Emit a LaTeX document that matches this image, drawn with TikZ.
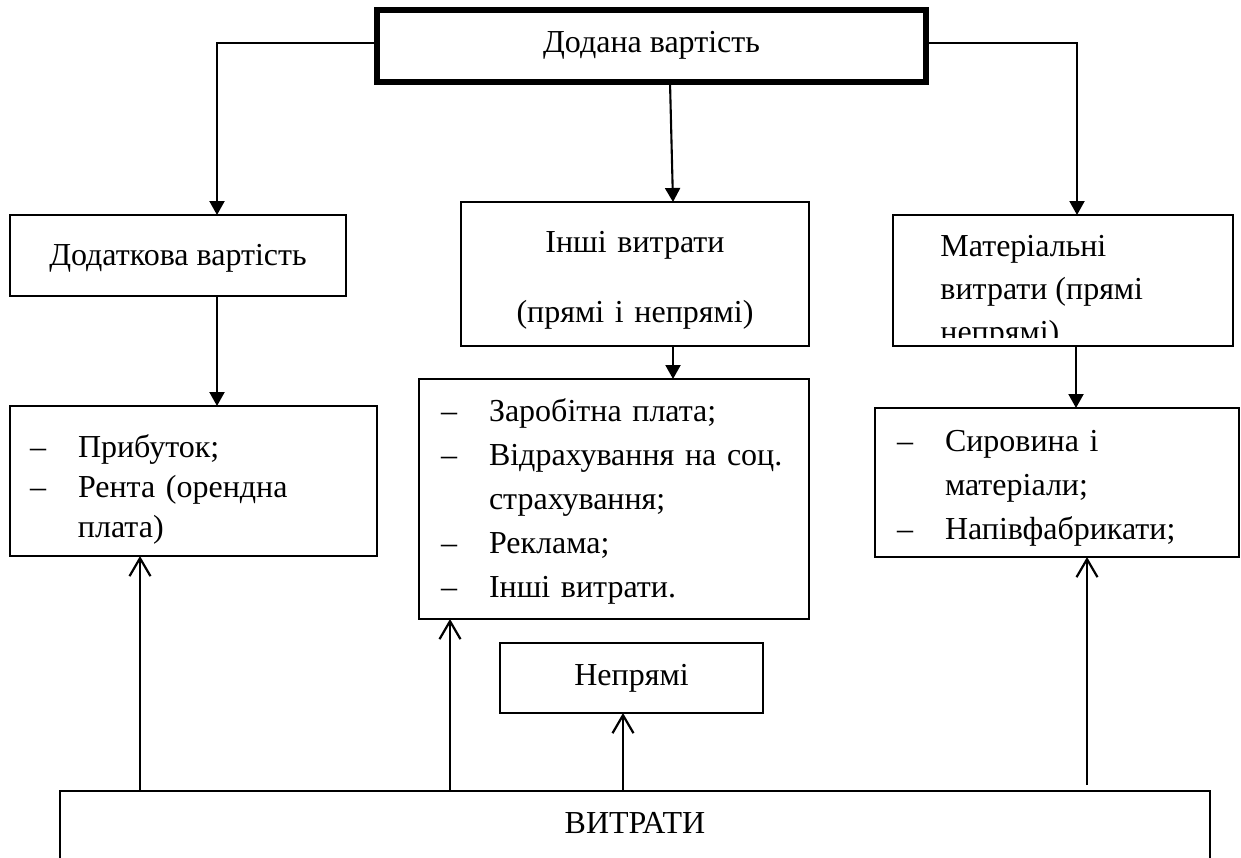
\documentclass[tikz,border=0pt]{standalone}
\usepackage{fontspec}
\setmainfont{Liberation Serif}
\usetikzlibrary{arrows.meta}
\newcommand{\idash}{\makebox[24pt][l]{–}}
\newcommand{\iindent}{\hspace*{24pt}}
\begin{document}
\begin{tikzpicture}[x=0.5pt,y=-0.5pt,
  box/.style={draw, line width=0.8pt, inner sep=0pt, outer sep=0pt, font=\fontsize{16}{20}\selectfont},
  thickbox/.style={box, line width=3pt},
  listbox/.style={box, anchor=north west, align=left, inner xsep=11pt, font=\fontsize{16}{22}\selectfont},
  conn/.style={line width=1.05pt, -{Triangle[length=7pt,width=7.5pt]}},
  up/.style={line width=1.1pt, -{Straight Barb[length=9pt,width=10.5pt]}},
]
\useasboundingbox (0,0) rectangle (1241,857);
\clip (0,0) rectangle (1241,857);

% boxes
\node[thickbox, anchor=north, minimum width=274.5pt, text height=21pt, text depth=15pt] (top) at (651.5,10) {Додана вартість};
\node[box, anchor=north, minimum width=168pt, text height=25pt, text depth=15.5pt] (dod) at (178,215) {Додаткова вартість};
\node[box, anchor=north, text width=174pt, align=center, text height=25pt, text depth=47pt, font=\fontsize{16}{35}\selectfont] (inshi) at (635,202) {Інші витрати\\(прямі і непрямі)};
\node[box, anchor=north west, minimum width=170pt, minimum height=65.5pt] (mat) at (893,215) {};
\begin{scope}
  \clip (mat.north west) rectangle ([yshift=4.5pt]mat.south east);
  \node[anchor=base west, inner sep=0pt, align=left, font=\fontsize{16}{21.5}\selectfont] (mattext) at (940,342) {Матеріальні\\витрати (прямі\\непрямі)};
\end{scope}

\node[listbox, inner xsep=10pt, text width=163.5pt, text height=25.5pt, text depth=49.5pt, font=\fontsize{16}{20}\selectfont] (prib) at (10,406) {\idash Прибуток;\\\idash Рента (орендна\\\iindent плата)};
\node[listbox, text width=173pt, text height=21pt, text depth=99pt] (list2) at (419,379) {\idash Заробітна плата;\\\idash Відрахування на соц.\\\iindent страхування;\\\idash Реклама;\\\idash Інші витрати.};
\node[listbox, text width=160pt, text height=21.5pt, text depth=53pt] (list3) at (875,408) {\idash Сировина і\\\iindent матеріали;\\\idash Напівфабрикати;};

\node[box, line width=1.1pt, anchor=north, minimum width=131.5pt, text height=21pt, text depth=14pt] (nepr) at (631.5,643) {Непрямі};
\node[box, line width=1.3pt, anchor=north, minimum width=575pt, text height=21pt, text depth=50pt] (vit) at (635,791) {ВИТРАТИ};

% downward connectors
\draw[conn] ([yshift=1.5pt]top.west) -| ([xshift=19.5pt]dod.north);
\draw[conn] ([xshift=9.25pt]top.south) -- ([xshift=19pt]inshi.north);
\draw[conn] ([yshift=1.5pt]top.east) -| ([xshift=7pt]mat.north);
\draw[conn] ([xshift=19.5pt]dod.south) -- ([xshift=19.5pt]dod.south |- prib.north);
\draw[conn] ([xshift=19pt]inshi.south) -- ([xshift=19pt]inshi.south |- list2.north);
\draw[conn] ([xshift=6.5pt]mat.south) -- ([xshift=6.5pt]mat.south |- list3.north);

% upward connectors
\draw[up] ([xshift=-26.75pt]prib.south |- vit.north) -- ([xshift=-26.75pt]prib.south);
\draw[up] ([xshift=-82pt]list2.south |- vit.north) -- ([xshift=-82pt]list2.south);
\draw[up] ([xshift=-4.25pt]nepr.south |- vit.north) -- ([xshift=-4.25pt]nepr.south);
\draw[up, shorten <=3pt] ([xshift=15pt]list3.south |- vit.north) -- ([xshift=15pt]list3.south);
\end{tikzpicture}
\end{document}
